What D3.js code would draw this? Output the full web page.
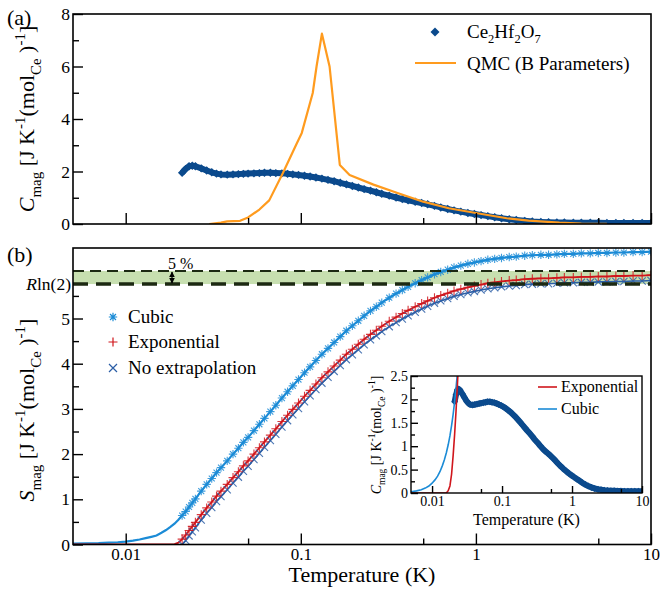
<!DOCTYPE html>
<html>
<head>
<meta charset="utf-8">
<script src="https://cdn.jsdelivr.net/npm/d3@7"></script>
<style>
  body { margin: 0; background: #fff; }
  svg, svg text { font-family: "Liberation Serif", "Times New Roman", serif; }
</style>
</head>
<body>
<svg id="chart" width="660" height="589"></svg>
<script>
// Measured temperatures (K) of the Ce2Hf2O7 specific-heat data
const temps = [0.021, 0.022, 0.023, 0.024, 0.025, 0.027, 0.029, 0.031, 0.033, 0.035,
  0.038, 0.041, 0.044, 0.047, 0.05, 0.054, 0.058, 0.062, 0.067, 0.072,
  0.078, 0.084, 0.09, 0.097, 0.105, 0.113, 0.122, 0.132, 0.143, 0.155,
  0.168, 0.182, 0.197, 0.213, 0.23, 0.25, 0.27, 0.29, 0.32, 0.35,
  0.38, 0.41, 0.45, 0.49, 0.53, 0.58, 0.63, 0.69, 0.75, 0.82,
  0.9, 0.98, 1.07, 1.17, 1.28, 1.4, 1.55, 1.7, 1.9, 2.1,
  2.35, 2.6, 2.9, 3.2, 3.6, 4.0, 4.5, 5.0, 5.6, 6.3,
  7.0, 7.9, 8.9, 10];

// Magnetic specific heat C_mag, J K^-1 (mol_Ce)^-1
const cMeasured = [1.95, 2.1, 2.2, 2.22, 2.2, 2.12, 2.04, 1.97, 1.92, 1.89,
  1.88, 1.89, 1.9, 1.91, 1.92, 1.93, 1.94, 1.95, 1.95, 1.94,
  1.93, 1.91, 1.89, 1.87, 1.84, 1.81, 1.77, 1.73, 1.68, 1.63,
  1.57, 1.51, 1.45, 1.39, 1.33, 1.27, 1.21, 1.15, 1.08, 1.01,
  0.95, 0.9, 0.85, 0.8, 0.75, 0.69, 0.63, 0.57, 0.52, 0.47,
  0.42, 0.38, 0.34, 0.3, 0.26, 0.22, 0.18, 0.15, 0.12, 0.095,
  0.08, 0.07, 0.06, 0.055, 0.05, 0.05, 0.045, 0.045, 0.04, 0.04,
  0.04, 0.04, 0.04, 0.04];

// Magnetic entropy S_mag for the three low-temperature treatments
const sNoExtrap = [0, 0.09, 0.19, 0.28, 0.37, 0.54, 0.69, 0.82, 0.95, 1.06,
  1.21, 1.36, 1.49, 1.62, 1.73, 1.88, 2.02, 2.15, 2.30, 2.44,
  2.60, 2.74, 2.87, 3.01, 3.16, 3.29, 3.43, 3.57, 3.70, 3.83,
  3.96, 4.09, 4.20, 4.31, 4.42, 4.53, 4.62, 4.71, 4.82, 4.91,
  4.99, 5.06, 5.14, 5.21, 5.27, 5.34, 5.39, 5.44, 5.49, 5.53,
  5.57, 5.60, 5.63, 5.66, 5.68, 5.70, 5.72, 5.73, 5.75, 5.76,
  5.77, 5.77, 5.78, 5.79, 5.79, 5.80, 5.80, 5.81, 5.81, 5.82,
  5.82, 5.83, 5.83, 5.84];
const sExponential = [0.12, 0.21, 0.31, 0.40, 0.49, 0.66, 0.81, 0.94, 1.07, 1.18,
  1.33, 1.48, 1.61, 1.74, 1.85, 2.00, 2.14, 2.27, 2.42, 2.56,
  2.72, 2.86, 2.99, 3.13, 3.28, 3.41, 3.55, 3.69, 3.82, 3.95,
  4.08, 4.21, 4.32, 4.43, 4.54, 4.65, 4.74, 4.83, 4.94, 5.03,
  5.11, 5.18, 5.26, 5.33, 5.39, 5.46, 5.51, 5.56, 5.61, 5.65,
  5.69, 5.72, 5.75, 5.78, 5.80, 5.82, 5.84, 5.85, 5.87, 5.88,
  5.89, 5.89, 5.90, 5.91, 5.91, 5.92, 5.92, 5.93, 5.93, 5.94,
  5.94, 5.95, 5.95, 5.96];
const sCubic = [0.64, 0.73, 0.83, 0.92, 1.01, 1.18, 1.33, 1.46, 1.59, 1.70,
  1.85, 2.00, 2.13, 2.26, 2.37, 2.52, 2.66, 2.79, 2.94, 3.08,
  3.24, 3.38, 3.51, 3.65, 3.80, 3.93, 4.07, 4.21, 4.34, 4.47,
  4.60, 4.73, 4.84, 4.95, 5.06, 5.17, 5.26, 5.35, 5.46, 5.55,
  5.63, 5.70, 5.78, 5.85, 5.91, 5.98, 6.03, 6.08, 6.13, 6.17,
  6.21, 6.24, 6.27, 6.30, 6.32, 6.34, 6.36, 6.37, 6.39, 6.40,
  6.41, 6.41, 6.42, 6.43, 6.43, 6.44, 6.44, 6.45, 6.45, 6.46,
  6.46, 6.47, 6.47, 6.48];

// Extrapolations below the lowest measured temperature
const extrapT = [0.005, 0.006, 0.007, 0.008, 0.009, 0.01, 0.011, 0.012, 0.013, 0.014,
  0.015, 0.016, 0.017, 0.018, 0.019, 0.02, 0.021, 0.022, 0.023, 0.024];
const cCubicExtrap = [0.026, 0.045, 0.07, 0.105, 0.15, 0.21, 0.28, 0.36, 0.46, 0.58,
  0.71, 0.86, 1.03, 1.22, 1.44, 1.68, 1.95, 2.24, 2.56, 2.9];
const cExpExtrap = [0, 0, 0, 0, 0, 0, 0, 0, 0, 0,
  0, 0, 0.05, 0.15, 0.4, 0.8, 1.25, 1.75, 2.3, 2.85];
const sCubicExtrap = [0.02, 0.025, 0.03, 0.04, 0.05, 0.065, 0.085, 0.11, 0.14, 0.17,
  0.2, 0.26, 0.32, 0.39, 0.46, 0.55, 0.64];
const sExpExtrap = [0, 0, 0, 0, 0, 0, 0, 0, 0, 0,
  0, 0, 0, 0, 0.01, 0.04, 0.12];

// Quantum Monte Carlo calculation (B parameters)
const qmcT = [0.03, 0.035, 0.038, 0.045, 0.05, 0.058, 0.066, 0.0789, 0.0948, 0.1013,
  0.117, 0.123, 0.132, 0.146, 0.167, 0.19, 0.26, 0.35, 0.5, 0.7,
  1.0, 1.5, 2.0, 3.0, 4.0, 5.6];
const qmcC = [0, 0.05, 0.1, 0.12, 0.25, 0.55, 0.9, 1.93, 3.07, 3.47,
  4.99, 6.0, 7.25, 6.0, 2.25, 1.87, 1.5, 1.2, 0.85, 0.6,
  0.42, 0.22, 0.13, 0.05, 0.02, 0.01];

const R_LN2 = 8.314 * Math.log(2);
const xMajor = [0.01, 0.1, 1, 10];
const xMinor = [0.05, 0.5, 5];
const yMajorA = [0, 2, 4, 6, 8];
const yMinorA = [1, 3, 5, 7];
const yMajorB = [0, 1, 2, 3, 4, 5];
const yMinorB = [0.5, 1.5, 2.5, 3.5, 4.5, 5.5];
const yMajorInset = [0, 0.5, 1, 1.5, 2, 2.5];
const yMinorInset = [0.25, 0.75, 1.25, 1.75, 2.25];

const colors = {
  data: "#0b4a8d",
  qmc: "#ff9b1e",
  cubic: "#1b8bd6",
  expo: "#d0161c",
  noext: "#2b5ea6",
  band: "#c7dfb0",
  dash: "#1c2912"
};
const SERIF = "Liberation Serif, Times New Roman, serif";

const svg = d3.select("#chart").attr("font-family", SERIF);
const fmtT = d => (d >= 1 ? d3.format("d")(d) : String(d));

const X0 = 73, X1 = 651;
const x = d3.scaleLog().domain([0.005, 10]).range([X0, X1]);
const yA = d3.scaleLinear().domain([0, 8]).range([224, 14]);
const yB = d3.scaleLinear().domain([0, 6.56]).range([544.5, 248]);

const defs = svg.append("defs");
defs.append("clipPath").attr("id", "clipA").append("rect")
  .attr("x", X0).attr("y", 14).attr("width", X1 - X0).attr("height", 210);
defs.append("clipPath").attr("id", "clipB").append("rect")
  .attr("x", X0).attr("y", 248).attr("width", X1 - X0).attr("height", 296.5);

// ---------- helpers ----------
function styleTicks(g, size) {
  g.attr("font-family", SERIF);
  g.select(".domain").remove();
  g.selectAll(".tick line").attr("stroke", "#000").attr("stroke-width", 1.4);
  g.selectAll(".tick text").attr("font-size", size).attr("fill", "#000");
}
function bottomAxis(g, scale, major, minor, majLen, minLen, fs, labels) {
  g.call(d3.axisBottom(scale).tickValues(major).tickSize(-majLen).tickPadding(3)
    .tickFormat(labels ? fmtT : () => ""));
  styleTicks(g, fs);
  const m = g.append("g");
  m.call(d3.axisBottom(scale).tickValues(minor).tickSize(-minLen).tickFormat(() => ""));
  styleTicks(m, fs);
}
function leftAxis(g, scale, major, minor, majLen, minLen, fs, fmt) {
  g.call(d3.axisLeft(scale).tickValues(major).tickSize(-majLen).tickPadding(3).tickFormat(fmt));
  styleTicks(g, fs);
  const m = g.append("g");
  m.call(d3.axisLeft(scale).tickValues(minor).tickSize(-minLen).tickFormat(() => ""));
  styleTicks(m, fs);
}
// Rotated unit label: X_mag [J K^-1(mol_Ce )^-1]
function unitLabel(cx, cy, sym, fs) {
  const t = svg.append("text")
    .attr("transform", `translate(${cx},${cy}) rotate(-90)`)
    .attr("text-anchor", "middle").attr("font-size", fs).attr("fill", "#000");
  const sub = fs * 0.68, sh = fs * 0.3, sp = fs * 0.42;
  t.append("tspan").attr("font-style", "italic").text(sym);
  t.append("tspan").attr("font-size", sub).attr("dy", sh).text("mag");
  t.append("tspan").attr("dy", -sh).text(" [J K");
  t.append("tspan").attr("font-size", sub).attr("dy", -sp).text("-1");
  t.append("tspan").attr("dy", sp).text("(mol");
  t.append("tspan").attr("font-size", sub).attr("dy", sh).text("Ce");
  t.append("tspan").attr("dy", -sh).text(" )");
  t.append("tspan").attr("font-size", sub).attr("dy", -sp).text("-1");
  t.append("tspan").attr("dy", sp).text("]");
  return t;
}
const diamondPath = r => `M0,${-r}L${r},0L0,${r}L${-r},0Z`;
function asteriskPath(r) {
  const d = r * Math.SQRT1_2;
  return `M${-r},0L${r},0M0,${-r}L0,${r}M${-d},${-d}L${d},${d}M${-d},${d}L${d},${-d}`;
}
const plusPath = r => `M${-r},0L${r},0M0,${-r}L0,${r}`;
const crossPath = r => `M${-r},${-r}L${r},${r}M${-r},${r}L${r},${-r}`;

// ---------- panel (a) ----------
const gA = svg.append("g");
gA.append("rect").attr("x", X0).attr("y", 14).attr("width", X1 - X0).attr("height", 210)
  .attr("fill", "#fff");

const dataA = temps.map((t, i) => [t, cMeasured[i]]);
const lineA = d3.line().x(d => x(d[0])).y(d => yA(d[1]));
const pA = gA.append("g").attr("clip-path", "url(#clipA)");
pA.append("path").attr("d", lineA(dataA)).attr("fill", "none")
  .attr("stroke", colors.data).attr("stroke-width", 6).attr("stroke-linejoin", "round");
pA.selectAll("path.pt").data(dataA).join("path").attr("class", "pt")
  .attr("transform", d => `translate(${x(d[0])},${yA(d[1])})`)
  .attr("d", diamondPath(4.2)).attr("fill", colors.data);
pA.append("path").attr("d", lineA(qmcT.map((t, i) => [t, qmcC[i]]))).attr("fill", "none")
  .attr("stroke", colors.qmc).attr("stroke-width", 2.2).attr("stroke-linejoin", "round");

bottomAxis(gA.append("g").attr("transform", "translate(0,224)"), x, xMajor, xMinor, 11, 6, 17, false);
leftAxis(gA.append("g").attr("transform", `translate(${X0},0)`), yA, yMajorA, yMinorA, 10, 6, 17.5, d3.format("d"));
gA.append("rect").attr("x", X0).attr("y", 14).attr("width", X1 - X0).attr("height", 210)
  .attr("fill", "none").attr("stroke", "#000").attr("stroke-width", 1.6);

// legend (a)
gA.append("path").attr("transform", "translate(435,32)").attr("d", diamondPath(4.5)).attr("fill", colors.data);
const lgA = gA.append("text").attr("x", 467).attr("y", 38).attr("font-size", 19);
lgA.append("tspan").text("Ce");
lgA.append("tspan").attr("font-size", 12.5).attr("dy", 5).text("2");
lgA.append("tspan").attr("dy", -5).text("Hf");
lgA.append("tspan").attr("font-size", 12.5).attr("dy", 5).text("2");
lgA.append("tspan").attr("dy", -5).text("O");
lgA.append("tspan").attr("font-size", 12.5).attr("dy", 5).text("7");
gA.append("line").attr("x1", 415).attr("x2", 456).attr("y1", 63).attr("y2", 63)
  .attr("stroke", colors.qmc).attr("stroke-width", 2.2);
gA.append("text").attr("x", 467).attr("y", 69.5).attr("font-size", 19).text("QMC (B Parameters)");

svg.append("text").attr("x", 7).attr("y", 25).attr("font-size", 22).text("(a)");
unitLabel(34, 119, "C", 22);

// ---------- panel (b) ----------
const gB = svg.append("g");
const pB = gB.append("g").attr("clip-path", "url(#clipB)");

// 5 % band above R ln 2
pB.append("rect").attr("x", X0).attr("width", X1 - X0)
  .attr("y", yB(R_LN2 * 1.05)).attr("height", yB(R_LN2) - yB(R_LN2 * 1.05))
  .attr("fill", colors.band);

const lineB = d3.line().x(d => x(d[0])).y(d => yB(d[1]));
const cubicData = temps.map((t, i) => [t, sCubic[i]]);
const expData = temps.map((t, i) => [t, sExponential[i]]);
const noData = temps.map((t, i) => [t, sNoExtrap[i]]);
const cubicLow = sCubicExtrap.map((s, i) => [extrapT[i], s]);
const expLow = sExpExtrap.map((s, i) => [extrapT[i], s]);

pB.append("path").attr("d", lineB(cubicLow.concat(cubicData))).attr("fill", "none")
  .attr("stroke", colors.cubic).attr("stroke-width", 2.2);
pB.append("path").attr("d", lineB(expLow.concat(expData))).attr("fill", "none")
  .attr("stroke", colors.expo).attr("stroke-width", 1.8);
pB.append("path").attr("d", lineB(noData)).attr("fill", "none")
  .attr("stroke", colors.noext).attr("stroke-width", 1.6);

pB.selectAll("path.nx").data(noData).join("path").attr("class", "nx")
  .attr("transform", d => `translate(${x(d[0])},${yB(d[1])})`)
  .attr("d", crossPath(3.6)).attr("stroke", colors.noext).attr("stroke-width", 1.1)
  .attr("fill", "none").attr("opacity", 0.85);
pB.selectAll("path.ex").data(expData).join("path").attr("class", "ex")
  .attr("transform", d => `translate(${x(d[0])},${yB(d[1])})`)
  .attr("d", plusPath(4.5)).attr("stroke", colors.expo).attr("stroke-width", 1.1)
  .attr("fill", "none").attr("opacity", 0.85);
pB.selectAll("path.cu").data(cubicData).join("path").attr("class", "cu")
  .attr("transform", d => `translate(${x(d[0])},${yB(d[1])})`)
  .attr("d", asteriskPath(4.2)).attr("stroke", colors.cubic).attr("stroke-width", 1.1)
  .attr("fill", "none").attr("opacity", 0.85);

// dashed reference lines: R ln 2 and +5 %
pB.append("line").attr("x1", X0).attr("x2", X1).attr("y1", yB(R_LN2)).attr("y2", yB(R_LN2))
  .attr("stroke", colors.dash).attr("stroke-width", 3.6).attr("stroke-dasharray", "15,8");
pB.append("line").attr("x1", X0).attr("x2", X1).attr("y1", yB(R_LN2 * 1.05)).attr("y2", yB(R_LN2 * 1.05))
  .attr("stroke", colors.dash).attr("stroke-width", 2).attr("stroke-dasharray", "11,6");

// 5 % arrow
const arrX = 172;
defs.append("marker").attr("id", "ah").attr("viewBox", "0 0 10 10").attr("refX", 9).attr("refY", 5)
  .attr("markerWidth", 5).attr("markerHeight", 5).attr("orient", "auto-start-reverse")
  .append("path").attr("d", "M0,0L10,5L0,10z").attr("fill", "#000");
gB.append("line").attr("x1", arrX).attr("x2", arrX)
  .attr("y1", yB(R_LN2 * 1.05) + 1).attr("y2", yB(R_LN2) - 1)
  .attr("stroke", "#000").attr("stroke-width", 1.2)
  .attr("marker-start", "url(#ah)").attr("marker-end", "url(#ah)");
gB.append("text").attr("x", 168).attr("y", 269).attr("font-size", 16).text("5 %");

const axB = gB.append("g").attr("transform", "translate(0,544.5)");
bottomAxis(axB, x, xMajor, xMinor, 11, 6, 17, true);
const ayB = gB.append("g").attr("transform", `translate(${X0},0)`);
leftAxis(ayB, yB, yMajorB, yMinorB, 10, 6, 17.5, d3.format("d"));
// R ln(2) tick label
const rl = gB.append("text").attr("x", X0 - 2).attr("y", yB(R_LN2) + 6)
  .attr("text-anchor", "end").attr("font-size", 17.5);
rl.append("tspan").attr("font-style", "italic").text("R");
rl.append("tspan").text("ln(2)");

gB.append("rect").attr("x", X0).attr("y", 248).attr("width", X1 - X0).attr("height", 296.5)
  .attr("fill", "none").attr("stroke", "#000").attr("stroke-width", 1.6);

svg.append("text").attr("x", 7).attr("y", 262).attr("font-size", 22).text("(b)");
unitLabel(34, 410, "S", 22);
svg.append("text").attr("x", (X0 + X1) / 2).attr("y", 582).attr("text-anchor", "middle")
  .attr("font-size", 22).text("Temperature (K)");

// legend (b)
const lgB = [
  { path: asteriskPath(4.2), color: colors.cubic, label: "Cubic", y: 317 },
  { path: plusPath(4.5), color: colors.expo, label: "Exponential", y: 342 },
  { path: crossPath(4), color: colors.noext, label: "No extrapolation", y: 368 }
];
lgB.forEach(d => {
  gB.append("path").attr("transform", `translate(113,${d.y})`).attr("d", d.path)
    .attr("stroke", d.color).attr("stroke-width", 1.2).attr("fill", "none");
  gB.append("text").attr("x", 128).attr("y", d.y + 6).attr("font-size", 19).text(d.label);
});

// ---------- inset ----------
const I0 = 411, I1 = 642, IT = 376, IB = 493;
const xi = d3.scaleLog().domain([0.005, 10]).range([I0, I1]);
const yi = d3.scaleLinear().domain([0, 2.5]).range([IB, IT]);
defs.append("clipPath").attr("id", "clipI").append("rect")
  .attr("x", I0).attr("y", IT).attr("width", I1 - I0).attr("height", IB - IT);
const gI = svg.append("g");
gI.append("rect").attr("x", I0).attr("y", IT).attr("width", I1 - I0).attr("height", IB - IT).attr("fill", "#fff");
const pI = gI.append("g").attr("clip-path", "url(#clipI)");
const lineI = d3.line().x(d => xi(d[0])).y(d => yi(d[1]));
pI.append("path").attr("d", lineI(dataA)).attr("fill", "none")
  .attr("stroke", colors.data).attr("stroke-width", 6).attr("stroke-linejoin", "round");
pI.selectAll("path.pt").data(dataA).join("path").attr("class", "pt")
  .attr("transform", d => `translate(${xi(d[0])},${yi(d[1])})`)
  .attr("d", diamondPath(3.5)).attr("fill", colors.data);
pI.append("path").attr("d", lineI(extrapT.map((t, i) => [t, cCubicExtrap[i]]))).attr("fill", "none")
  .attr("stroke", colors.cubic).attr("stroke-width", 1.6);
pI.append("path").attr("d", lineI(extrapT.map((t, i) => [t, cExpExtrap[i]]))).attr("fill", "none")
  .attr("stroke", colors.expo).attr("stroke-width", 1.6);

bottomAxis(gI.append("g").attr("transform", `translate(0,${IB})`), xi, xMajor, xMinor, 7, 4, 14, true);
leftAxis(gI.append("g").attr("transform", `translate(${I0},0)`), yi, yMajorInset, yMinorInset, 7, 4, 14, d3.format("~g"));
gI.append("rect").attr("x", I0).attr("y", IT).attr("width", I1 - I0).attr("height", IB - IT)
  .attr("fill", "none").attr("stroke", "#000").attr("stroke-width", 1.4);

const lgI = [
  { color: colors.expo, label: "Exponential", y: 387 },
  { color: colors.cubic, label: "Cubic", y: 409 }
];
lgI.forEach(d => {
  gI.append("line").attr("x1", 538).attr("x2", 557).attr("y1", d.y).attr("y2", d.y)
    .attr("stroke", d.color).attr("stroke-width", 1.6);
  gI.append("text").attr("x", 561).attr("y", d.y + 5).attr("font-size", 16).text(d.label);
});
unitLabel(381, 435, "C", 14);
gI.append("text").attr("x", (I0 + I1) / 2).attr("y", 525).attr("text-anchor", "middle")
  .attr("font-size", 16).text("Temperature (K)");
</script>
</body>
</html>
